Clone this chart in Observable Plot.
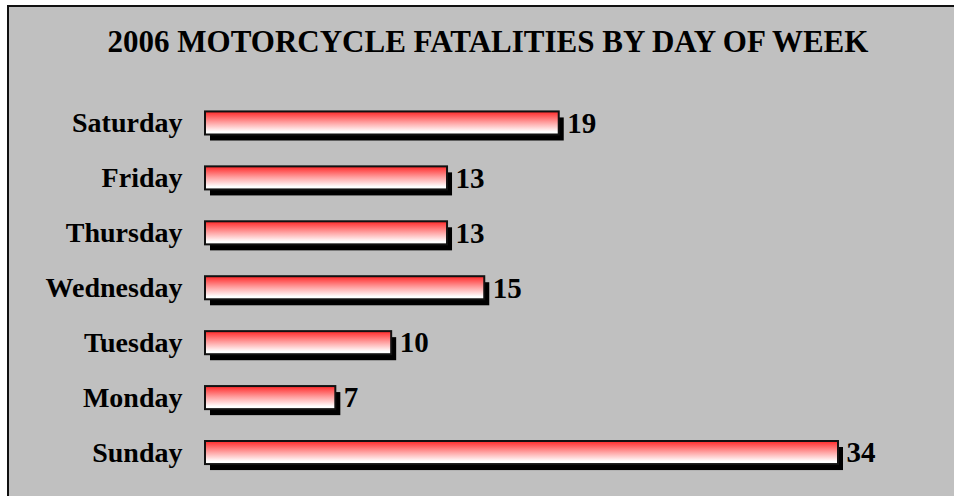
<!DOCTYPE html>
<html>
<head>
<meta charset="utf-8">
<script src="https://cdn.jsdelivr.net/npm/d3@7"></script>
<script src="https://cdn.jsdelivr.net/npm/@observablehq/plot@0.6"></script>
<style>
  html, body { margin: 0; padding: 0; background: #ffffff; }
  #page { position: relative; width: 954px; height: 496px; overflow: hidden; }
  #panel { position: absolute; left: 7px; top: 5px; width: 947px; height: 491px;
           background: #c0c0c0; border-left: 2px solid #111; border-top: 2px solid #111; box-sizing: border-box; }
  #title { position: absolute; left: 11px; top: 26px; width: 954px; text-align: center;
           font-family: "Liberation Serif", "Times New Roman", serif; font-weight: bold;
           font-size: 31px; line-height: 31px; color: #000; z-index: 2; }
  #chart { position: absolute; left: 0; top: 0; z-index: 1; }
</style>
</head>
<body>
<div id="page">
  <div id="panel"></div>
  <div id="title">2006 MOTORCYCLE FATALITIES BY DAY OF WEEK</div>
  <div id="chart"></div>
</div>
<script>
const days = ["Saturday", "Friday", "Thursday", "Wednesday", "Tuesday", "Monday", "Sunday"];
const fatalities = [19, 13, 13, 15, 10, 7, 34];

const data = days.map((d, i) => ({day: d, value: fatalities[i]}));

const gradientDefs = () => {
  const defs = d3.create("svg:defs");
  const g = defs.append("linearGradient")
    .attr("id", "barGrad").attr("x1", 0).attr("y1", 0).attr("x2", 0).attr("y2", 1);
  g.append("stop").attr("offset", "0").attr("stop-color", "#ff2828");
  g.append("stop").attr("offset", "0.45").attr("stop-color", "#ff9a9a");
  g.append("stop").attr("offset", "0.88").attr("stop-color", "#ffffff");
  g.append("stop").attr("offset", "1").attr("stop-color", "#ffffff");
  return defs.node();
};

const chart = Plot.plot({
  width: 954,
  height: 496,
  marginLeft: 205,
  marginRight: 116,
  marginTop: 95.5,
  marginBottom: 16,
  style: {background: "transparent", fontFamily: "Liberation Serif, Times New Roman, serif", color: "#000"},
  x: {domain: [0, 34], axis: null},
  y: {domain: days, paddingInner: 0.58, paddingOuter: 0.29, round: false, label: null},
  marks: [
    gradientDefs,
    Plot.barX(data, {y: "day", x: "value", fill: "#000", dx: 5, dy: 6}),
    Plot.barX(data, {y: "day", x: "value", fill: "url(#barGrad)", stroke: "#111", strokeWidth: 2}),
    Plot.text(data, {y: "day", x: "value", text: d => String(d.value), textAnchor: "start", dx: 8,
                     fontSize: 29, fontWeight: "bold", fill: "#000"}),
    Plot.axisY({tickSize: 0, tickPadding: 23, fontSize: 28, fontWeight: "bold", label: null})
  ]
});
document.getElementById("chart").appendChild(chart);
</script>
</body>
</html>
